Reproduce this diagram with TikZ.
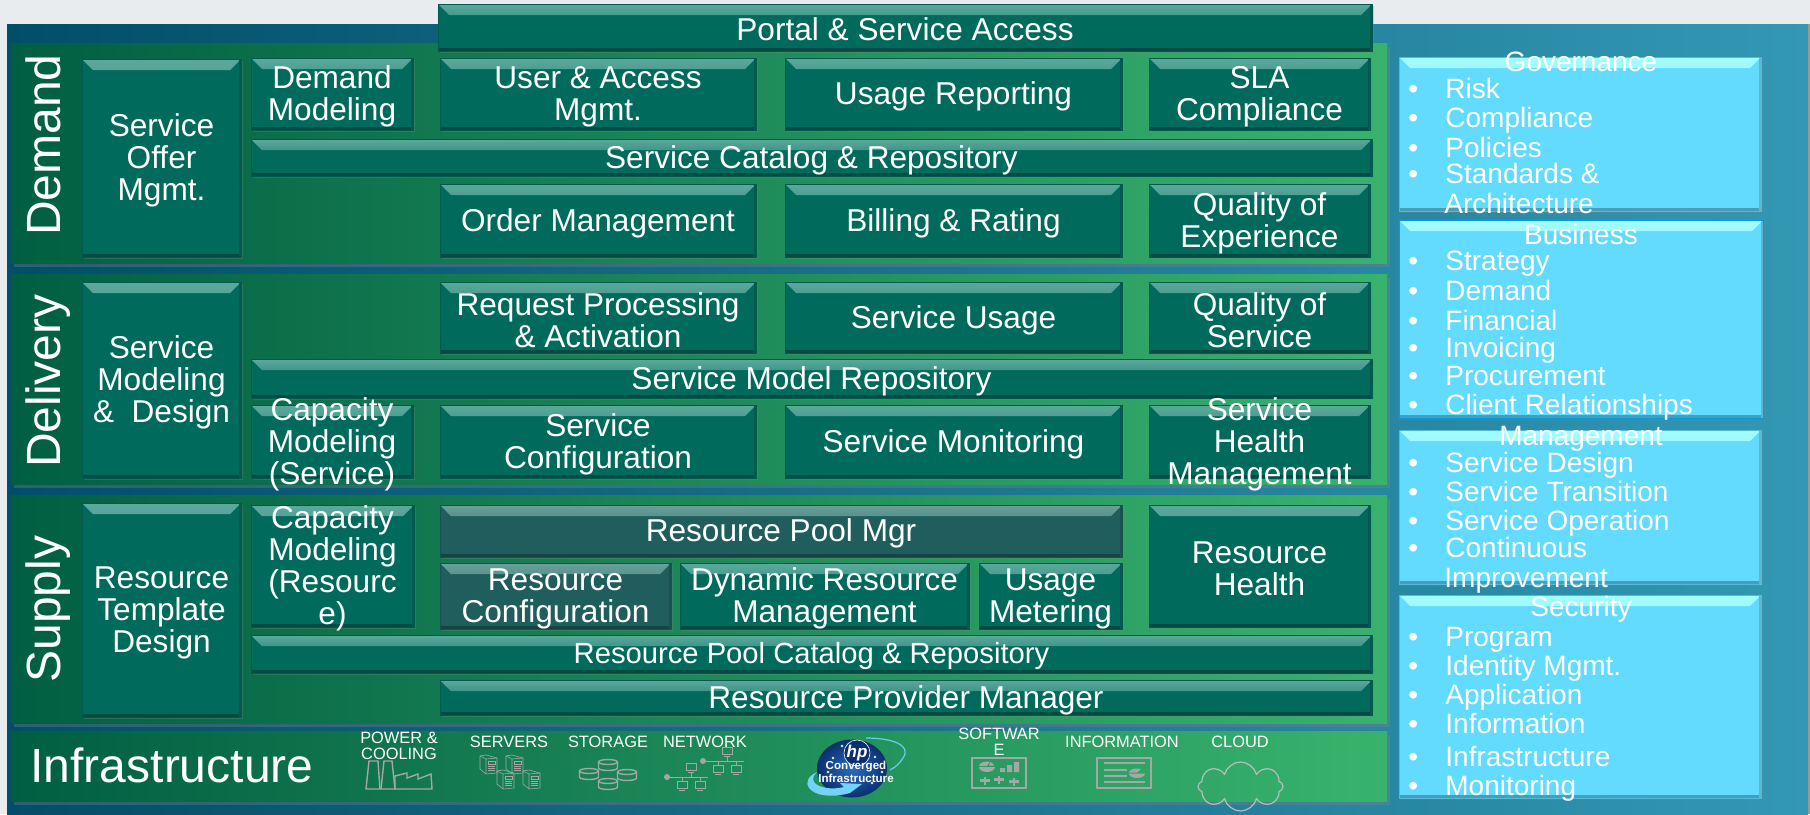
\documentclass[tikz,border=0pt]{standalone}
\usepackage{fontspec}
\setmainfont{Liberation Sans}
\usepackage{xcolor}
\usepackage{tikz}
\usetikzlibrary{positioning, arrows.meta, shadows, shapes.symbols, calc}

\definecolor{pagegrey}{HTML}{E9ECEE}
\definecolor{edgegrey}{HTML}{9A9A9A}
\definecolor{panelleft}{HTML}{014E68}
\definecolor{panelright}{HTML}{3398B4}
\definecolor{bandleft}{HTML}{015E42}
\definecolor{bandright}{HTML}{38B36D}
\definecolor{cellteal}{HTML}{006A5D}
\definecolor{celltealtop}{HTML}{5BA99C}
\definecolor{cellgrey}{HTML}{1F5E5C}
\definecolor{cellgreytop}{HTML}{6A9F9A}
\definecolor{cellblue}{HTML}{62DBFF}
\definecolor{cellbluetop}{HTML}{A2FCFF}
\definecolor{icongrey}{HTML}{A3A8A4}
\definecolor{cloudgrey}{HTML}{B8BDB9}
\definecolor{sphereinner}{HTML}{2A6CBC}
\definecolor{sphereouter}{HTML}{0B2F6E}

\begin{document}
\begin{tikzpicture}[x=0.5pt, y=-0.5pt, node distance=4pt,
		band/.style={shade, left color=bandleft, right color=bandright, anchor=north west, inner sep=0pt, outer sep=0pt, minimum width=688pt, drop shadow={shadow xshift=1.5pt, shadow yshift=-2pt, opacity=.35}},
		cell/.style={fill=#1, draw=#1!85!black, line width=.4pt, inner sep=0pt, outer sep=0pt, drop shadow={shadow xshift=1pt, shadow yshift=-1.2pt, opacity=.3},
			path picture={
				\shade[top color=#1top, bottom color=#1] (path picture bounding box.north west) -- (path picture bounding box.north east) -- ++(-5.5pt,-5.5pt) -- ($(path picture bounding box.north west)+(5.5pt,-5.5pt)$) -- cycle;
				\fill[#1!72!black] (path picture bounding box.south west) rectangle ($(path picture bounding box.south east)+(0,1.3pt)$);
				\fill[#1!85!black] (path picture bounding box.north east) rectangle ($(path picture bounding box.south east)+(-.8pt,0)$);
			}},
		cell/.default=cellteal,
		lbl/.style={label={[text=white, align=center, inner sep=0pt, yshift=-1.2pt, font=\fontsize{15.8}{16}\selectfont]center:{#1}}},
		sidebox/.style={cell=cellblue, anchor=north west, minimum width=181pt},
		sidetext/.style={text=white, inner sep=0pt, font=\fontsize{14}{16}\selectfont},
		tagtext/.style={text=white, inner sep=0pt, align=center, font=\fontsize{8.2}{8.2}\selectfont},
		bandname/.style={text=white, inner sep=0pt, rotate=90, anchor=base, font=\fontsize{24}{24}\selectfont},
		icon/.style={draw=icongrey, line width=.7pt}]
	
	% Draw background
	\useasboundingbox (0,0) rectangle (1810,814);
	\fill[pagegrey] (0,0) rectangle (1810,814);
	\fill[edgegrey] (1808,24) rectangle (1810,814);
	\shade[left color=panelleft, right color=panelright] (7,24) rectangle (1808,814);
	
	% Draw bands
	\node (demandband) [band, minimum height=110pt] at (11,43) {};
	\node (deliveryband) [band, minimum height=105pt] at (11,274) {};
	\node (supplyband) [band, minimum height=114pt] at (11,495) {};
	\node (infraband) [band, minimum height=35pt, left color=bandleft, middle color=bandleft!45!bandright, right color=bandright] at (11,731) {};
	
	% Draw band names
	\node (demandname) [bandname] at (60,145) {Demand};
	\node (deliveryname) [bandname] at (60,381) {Delivery};
	\node (supplyname) [bandname] at (60,609) {Supply};
	\node (infraname) [text=white, inner sep=0pt, font=\fontsize{24}{24}\selectfont] at (172,765) {Infrastructure};
	
	% Draw demand boxes
	\node (portal) [cell, anchor=north west, minimum width=467pt, minimum height=23.5pt, lbl={\raisebox{1.2pt}{Portal \& Service Access}}] at (438,4) {};
	\node (serviceoffer) [cell, anchor=north west, minimum width=79.5pt, minimum height=99pt, lbl={Service\\Offer\\Mgmt.}] at (82,59) {};
	\node (demandmodel) [cell, anchor=north west, minimum width=81pt, minimum height=36pt, lbl={Demand\\Modeling}] at (251,58) {};
	\node (useraccess) [cell, anchor=north west, minimum width=158pt, minimum height=36pt, lbl={User \& Access\\Mgmt.}] at (440,58) {};
	\node (usagereport) [cell, right=14.5pt of useraccess, minimum width=168.5pt, minimum height=36pt, lbl={Usage Reporting}] {};
	\node (sla) [cell, right=13.5pt of usagereport, minimum width=110.5pt, minimum height=36pt, lbl={SLA\\Compliance}] {};
	\node (catalog) [cell, anchor=north west, minimum width=560.5pt, minimum height=18.5pt, lbl={Service Catalog \& Repository}] at (251,139) {};
	\node (order) [cell, below=27pt of useraccess, minimum width=158pt, minimum height=36.5pt, lbl={Order Management}] {};
	\node (billing) [cell, right=14.5pt of order, minimum width=168.5pt, minimum height=36.5pt, lbl={Billing \& Rating}] {};
	\node (experience) [cell, right=13.5pt of billing, minimum width=110.5pt, minimum height=36.5pt, lbl={Quality of\\Experience}] {};
	
	% Draw delivery boxes
	\node (servicemodel) [cell, anchor=north west, minimum width=79.5pt, minimum height=98pt, lbl={Service\\Modeling\\\&~ Design}] at (82,282) {};
	\node (request) [cell, anchor=north west, minimum width=158pt, minimum height=35.5pt, lbl={Request Processing\\\& Activation}] at (440,282) {};
	\node (usage) [cell, right=14.5pt of request, minimum width=168.5pt, minimum height=35.5pt, lbl={Service Usage}] {};
	\node (qos) [cell, right=13.5pt of usage, minimum width=110.5pt, minimum height=35.5pt, lbl={Quality of\\Service}] {};
	\node (modelrepo) [cell, anchor=north west, minimum width=560.5pt, minimum height=19.5pt, lbl={Service Model Repository}] at (251,359) {};
	\node (capservice) [cell, anchor=north west, minimum width=81pt, minimum height=36.5pt, lbl={Capacity\\Modeling\\(Service)}] at (251,405) {};
	\node (config) [cell, anchor=north west, minimum width=158pt, minimum height=36.5pt, lbl={Service\\Configuration}] at (440,405) {};
	\node (monitor) [cell, right=14.5pt of config, minimum width=168.5pt, minimum height=36.5pt, lbl={Service Monitoring}] {};
	\node (health) [cell, right=13.5pt of monitor, minimum width=110.5pt, minimum height=36.5pt, lbl={Service\\Health\\Management}] {};
	
	% Draw supply boxes
	\node (template) [cell, anchor=north west, minimum width=79.5pt, minimum height=107pt, lbl={Resource\\Template\\Design}] at (82,503) {};
	\node (capresource) [cell, anchor=north west, minimum width=81.5pt, minimum height=61pt, lbl={Capacity\\Modeling\\(Resourc\\e)}] at (251,505) {};
	\node (poolmgr) [cell=cellgrey, anchor=north west, minimum width=341pt, minimum height=26pt, lbl={Resource Pool Mgr}] at (440,505) {};
	\node (resconfig) [cell=cellgrey, anchor=north west, minimum width=115.5pt, minimum height=33pt, lbl={Resource\\Configuration}] at (440,563) {};
	\node (dynamic) [cell, right=4.5pt of resconfig, minimum width=144.5pt, minimum height=33pt, lbl={Dynamic Resource\\Management}] {};
	\node (metering) [cell, right=5pt of dynamic, minimum width=71.5pt, minimum height=33pt, lbl={Usage\\Metering}] {};
	\node (reshealth) [cell, anchor=north west, minimum width=110.5pt, minimum height=61pt, lbl={Resource\\Health}] at (1149,505) {};
	\node (poolcatalog) [cell, anchor=north west, minimum width=560.5pt, minimum height=19pt, lbl={\fontsize{14.6}{16}\selectfont Resource Pool Catalog \& Repository}] at (251,635) {};
	\node (provider) [cell, anchor=north west, minimum width=466pt, minimum height=17.5pt, lbl={Resource Provider Manager}] at (440,680) {};
	
	% Draw side boxes
	\node (governance) [sidebox, minimum height=77pt] at (1399,57) {};
	\node (business) [sidebox, draw=cyan!85!blue, minimum width=182pt, minimum height=99pt] at (1399,220) {};
	\node (management) [sidebox, minimum height=77pt] at (1399,430) {};
	\node (security) [sidebox, minimum height=101.5pt] at (1399,595) {};
	
	% Draw side texts
	\foreach \i/\y/\t in {gov/71/Governance, bus/244/Business, man/445/Management, sec/616/Security}
		\node (\i title) [sidetext, anchor=base] at (1581,\y) {\t};
	\foreach \i/\y/\t in {1/98/Risk, 2/127/Compliance, 3/157/Policies, 4/183/Standards \&,
		5/270/Strategy, 6/300/Demand, 7/330/Financial, 8/357/Invoicing, 9/385/Procurement, 10/414/Client Relationships,
		11/472/Service Design, 12/501/Service Transition, 13/530/Service Operation, 14/557/Continuous,
		15/646/Program, 16/675/Identity Mgmt., 17/704/Application, 18/733/Information, 19/766/Infrastructure, 20/795/Monitoring}
		\node (item\i) [sidetext, anchor=base west] at (1408,\y) {\makebox[18.5pt][l]{\textbullet}\t};
	\node (architecture) [sidetext, anchor=base west] at (1444,213) {Architecture};
	\node (improvement) [sidetext, anchor=base west] at (1444,587) {Improvement};
	
	% Draw infrastructure tags
	\node (powertag) [tagtext] at (399,746) {POWER \&\\COOLING};
	\node (serverstag) [tagtext] at (509,742) {SERVERS};
	\node (storagetag) [tagtext] at (608,742) {STORAGE};
	\node (networktag) [tagtext] at (705,742) {NETWORK};
	\node (softwaretag) [tagtext] at (999,742) {SOFTWAR\\E};
	\node (infotag) [tagtext] at (1122,742) {INFORMATION};
	\node (cloudtag) [tagtext] at (1240,742) {CLOUD};
	
	% Draw factory
	\draw[icon, line join=miter] (366,789) -- (369,761) -- (378,761) -- (380,789) -- cycle;
	\draw[icon] (381,789) -- (384,761) -- (392,761) -- (395,789) -- cycle;
	\draw[icon] (395,789) -- (395,776) -- (407,773) -- (407,778) -- (418,774) -- (418,779) -- (431,774) -- (432,789) -- cycle;
	
	% Draw servers
	\foreach \sx/\sy in {480/756, 506/756, 497/771, 523/771} {
		\draw[icon, line width=.3pt] (\sx,\sy) -- (\sx+6,\sy-1) -- (\sx+17,\sy+2) -- (\sx+17,\sy+17) -- (\sx+6,\sy+18) -- (\sx,\sy+13) -- cycle;
		\draw[icon, line width=.3pt] (\sx,\sy) -- (\sx+6,\sy+3) -- (\sx+17,\sy+2) (\sx+6,\sy+3) -- (\sx+6,\sy+18);
		\draw[icon, line width=.3pt] (\sx+8,\sy+5) rectangle (\sx+15,\sy+8);
		\foreach \l in {10,12,14}
			\draw[icongrey, line width=.25pt] (\sx+8,\sy+\l) -- (\sx+15,\sy+\l);
	}
	
	% Draw disks
	\foreach \dx/\dy in {589/774, 608/765, 627/775, 608/784} {
		\draw[icon] (\dx,\dy-3) ellipse (9.5 and 2.5);
		\draw[icon] (\dx-9.5,\dy-3) -- (\dx-9.5,\dy+3) arc (180:0:9.5 and 2.5) -- (\dx+9.5,\dy-3);
	}
	
	% Draw networks
	\foreach \nx/\ny in {0/0, 36/-16} {
		\fill[icongrey] (667+\nx,777+\ny) circle (3);
		\draw[icon, line width=.5pt] (667+\nx,777+\ny) -- (708+\nx,777+\ny) (691+\nx,773+\ny) -- (691+\nx,777+\ny) (682+\nx,777+\ny) -- (682+\nx,781+\ny) (700+\nx,777+\ny) -- (700+\nx,781+\ny);
		\foreach \mx/\my in {691/767, 682/785, 700/785} {
			\draw[icon, line width=.5pt] (\mx+\nx-5,\my+\ny-4) rectangle (\mx+\nx+5,\my+\ny+3);
			\draw[icon, line width=.5pt] (\mx+\nx-3,\my+\ny+5) -- (\mx+\nx+3,\my+\ny+5);
		}
	}
	
	% Draw logo
	\draw[cyan!60!white, line width=.6pt] (866,738) .. controls (892,738) and (912,745) .. (903,758) .. controls (900,763) and (896,767) .. (890,770);
	\shade[inner color=sphereinner, outer color=sphereouter] (852,768.5) ellipse (35 and 29);
	\fill[cyan!55!white] (817,772) .. controls (808,776) and (805,783) .. (809,788) .. controls (815,796) and (832,798) .. (850,793) -- (862,784) -- (840,783) -- (844,787) .. controls (832,790) and (818,788) .. (814,782) .. controls (812,778) and (814,775) .. (817,772) -- cycle;
	\foreach \sx/\sy in {833/758, 875/757, 872/783, 842/746, 882/772, 828/772}
		\fill[white!85!cyan] (\sx,\sy) circle (1.3);
	\node (hpdisc) [circle, fill=sphereouter, draw=white, line width=.3pt, minimum size=11.5pt, inner sep=0pt, text=white, font=\fontsize{8.5}{8}\selectfont\itshape\bfseries] at (857,753) {hp};
	\node (hptext) [text=white, inner sep=0pt, align=center, font=\fontsize{5.8}{4.6}\selectfont\bfseries] at (856,771.5) {Converged\\Infrastructure};
	
	% Draw software
	\draw[icon, line width=.9pt] (972,758) rectangle (1026,788);
	\fill[icongrey] (987,767) -- (995,767) arc (0:180:8 and 5) -- cycle;
	\fill[icongrey] (987,766) -- (979,766) arc (180:290:8 and 4.5) -- cycle;
	\fill[icongrey] (989,765.5) -- (990,762) arc (290:360:6 and 4) -- cycle;
	\fill[icongrey] (1000,768) rectangle (1005,772) (1007,765) rectangle (1012,772) (1014,762) rectangle (1019,772);
	\foreach \kx/\ky in {985/780, 999/779, 1014/781} {
		\fill[icongrey] (\kx-5,\ky-1.5) rectangle (\kx+5,\ky+1.5);
		\draw[icon, line width=.6pt] (\kx,\ky-3) -- (\kx,\ky+5);
	}
	
	% Draw information
	\draw[icon, line width=.9pt] (1097,758) rectangle (1151,788);
	\foreach \ly/\lx in {763/1145, 770/1127, 776/1127, 782/1145}
		\draw[icon, line width=1pt] (1104,\ly) -- (\lx,\ly);
	\fill[icongrey] (1137,773.5) -- (1145,773.5) arc (0:180:8 and 4.5) -- cycle;
	\fill[icongrey] (1137,772.5) -- (1129,772.5) arc (180:300:8 and 4) -- cycle;
	
	% Draw cloud
	\node (cloudicon) [cloud, draw=cloudgrey, line width=.6pt, cloud puffs=8, aspect=1.8, inner sep=0pt, minimum width=42.5pt, minimum height=24.5pt] at (1240.5,786.5) {};
	
\end{tikzpicture}
\end{document}
